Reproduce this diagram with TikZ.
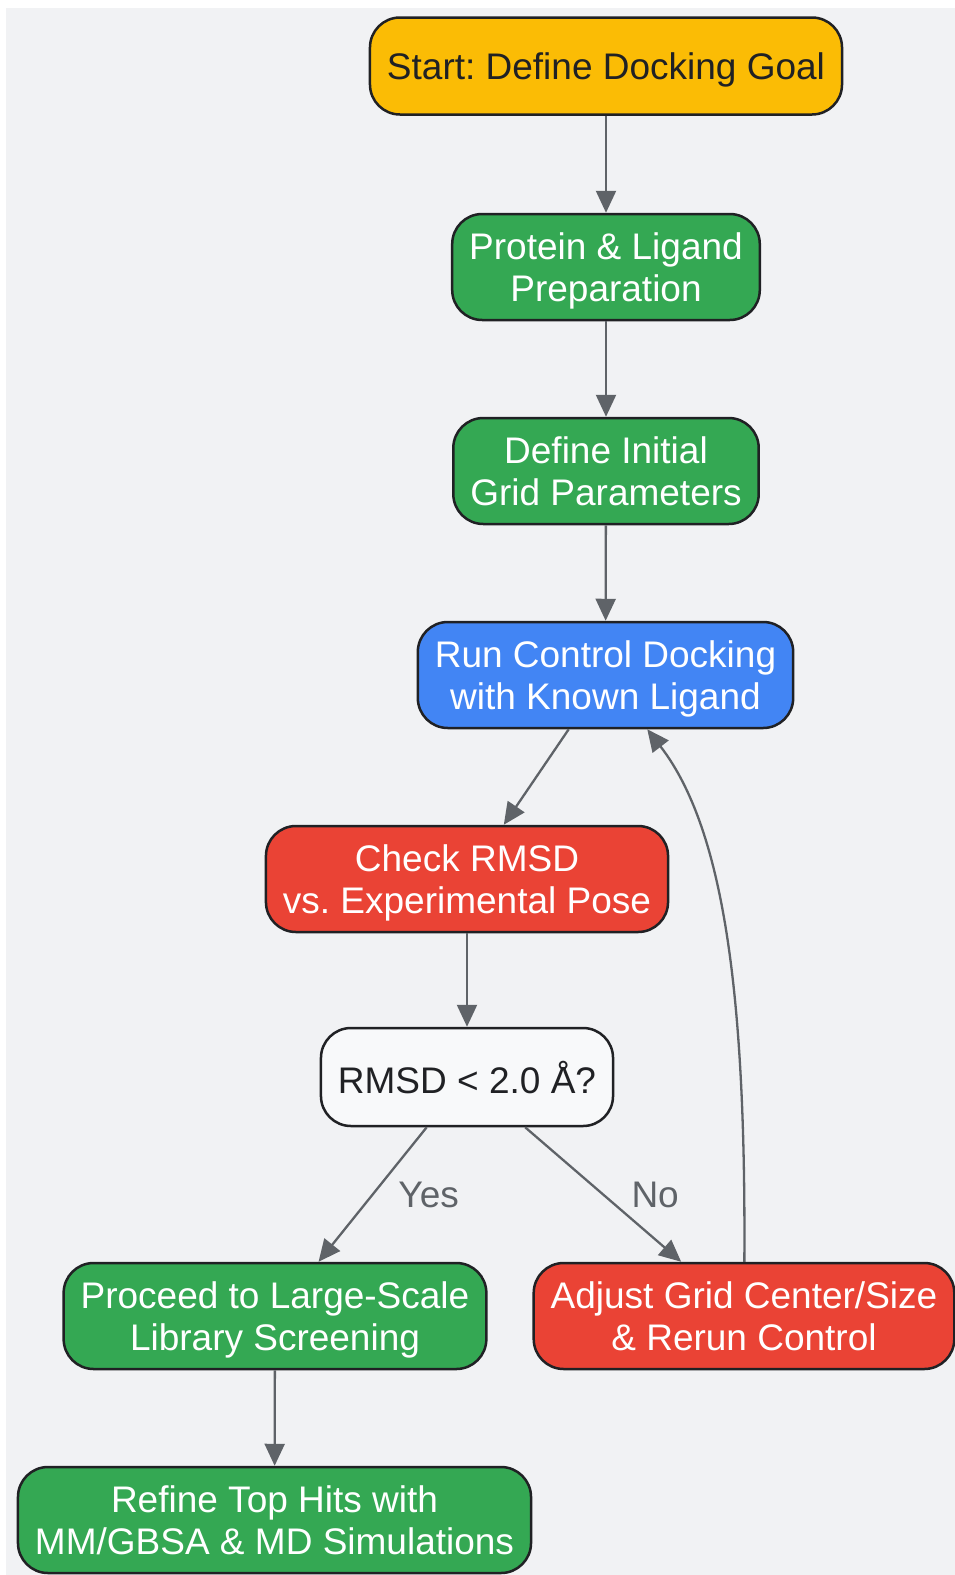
\documentclass[tikz,border=0pt]{standalone}
\usepackage{fontspec}
\setmainfont{Liberation Sans}
\usetikzlibrary{arrows.meta}
\definecolor{bgcol}{HTML}{F1F2F4}
\definecolor{edgecol}{HTML}{202124}
\definecolor{arrowcol}{HTML}{5F6368}
\definecolor{goalcol}{HTML}{FBBC05}
\definecolor{stepcol}{HTML}{34A853}
\definecolor{runcol}{HTML}{4285F4}
\definecolor{checkcol}{HTML}{EA4335}
\definecolor{askcol}{HTML}{F8F9FA}
\frenchspacing

\begin{document}
\begin{tikzpicture}[x=1pt,y=-1pt,
  box/.style={draw=edgecol, line width=2.5pt, rounded corners=30pt, align=center,
    inner xsep=17pt, inner ysep=0pt, minimum height=106pt, text depth=0pt, text=white,
    font=\fontsize{37}{42.5}\selectfont},
  flow/.style={draw=arrowcol, line width=2.3pt, -{Triangle[length=22pt,width=20pt]}},
  lbl/.style={text=arrowcol, font=\fontsize{37}{42.5}\selectfont}]
\useasboundingbox (0,0) rectangle (955,1575);
\fill[bgcol] (6,8) rectangle (955,1575);

\node[box, fill=goalcol, text=edgecol, minimum height=97pt] (goal) at (606,66) {Start: Define Docking Goal};
\node[box, fill=stepcol] (prep) at (606,267) {Protein \& Ligand\\Preparation};
\node[box, fill=stepcol] (grid) at (606,471) {Define Initial\\Grid Parameters};
\node[box, fill=runcol] (run) at (605.5,675) {Run Control Docking\\with Known Ligand};
\node[box, fill=checkcol] (check) at (467,879) {Check RMSD\\vs. Experimental Pose};
\node[box, fill=askcol, text=edgecol, minimum height=98pt] (ask) at (467,1077) {RMSD < 2.0 Å?};
\node[box, fill=stepcol] (screen) at (275,1316) {Proceed to Large-Scale\\Library Screening};
\node[box, fill=checkcol] (adjust) at (744,1316) {Adjust Grid Center/Size\\\& Rerun Control};
\node[box, fill=stepcol] (refine) at (274.5,1520) {Refine Top Hits with\\MM/GBSA \& MD Simulations};

\draw[flow] (goal) -- (prep);
\draw[flow] (prep) -- (grid);
\draw[flow] (grid) -- (run);
\draw[flow] (run) -- (check);
\draw[flow] (check) -- (ask);
\draw[flow] (ask) -- node[lbl, xshift=56pt] {Yes} (screen);
\draw[flow] (ask) -- node[lbl, xshift=52pt] {No} (adjust);
% back to the control run
\draw[flow] (adjust) .. controls (746,1000) and (725,830) .. (run);
\draw[flow] (screen) -- (refine);
\end{tikzpicture}
\end{document}
